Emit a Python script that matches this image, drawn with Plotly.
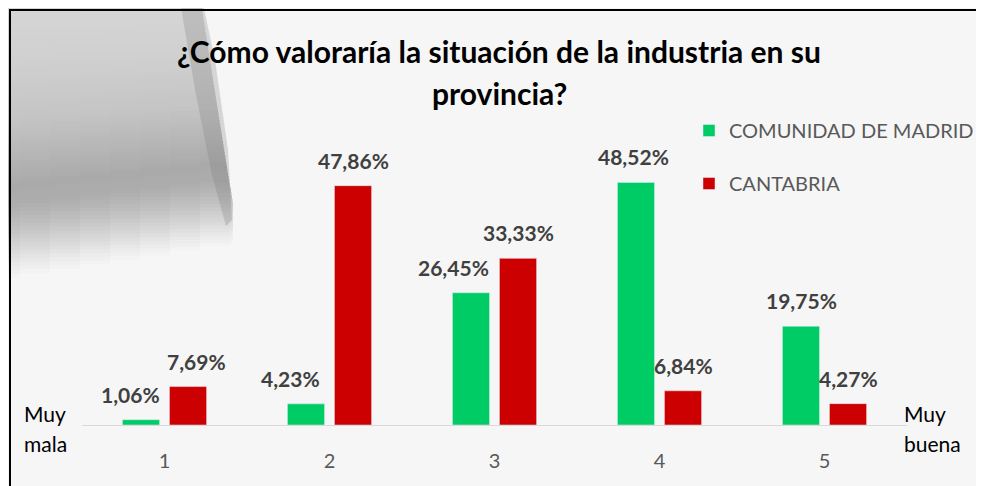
import plotly.graph_objects as go

categories = ["1", "2", "3", "4", "5"]
madrid = [1.06, 4.23, 26.45, 48.52, 19.75]
cantabria = [7.69, 47.86, 33.33, 6.84, 4.27]
series_names = ["COMUNIDAD DE MADRID", "CANTABRIA"]
title_lines = ["¿Cómo valoraría la situación de la industria en su", "provincia?"]

GREEN = "#00CC66"
RED = "#CC0000"
FONT = "Lato"

# the page body adds an 8px offset; screen-space plot area:
OFF = 8
W, H = 984 - OFF, 486 - OFF
L, R, T, B = 82, 907, 125, 425


def px(x):
    return (x - L) / (R - L)


def py(y):
    return (B - y) / (B - T)


def fmt(v):
    return f"{v:.2f}".replace(".", ",") + "%"


fig = go.Figure()
fig.add_trace(go.Bar(x=categories, y=madrid, name=series_names[0], marker_color=GREEN,
                     legendgroup="a", hoverinfo="skip"))
fig.add_trace(go.Bar(x=categories, y=cantabria, name=series_names[1], marker_color=RED,
                     legendgroup="b", hoverinfo="skip"))

label_font = dict(family=FONT, size=21, color="#404040", weight="bold")
green_shift = [-11, -16, -18, -3, 0]
red_shift = [8, 0, 0, 0, 0]
annotations = []
for i, c in enumerate(categories):
    annotations.append(dict(x=i, y=madrid[i], text=fmt(madrid[i]), showarrow=False,
                            xshift=-23.5 + green_shift[i], yshift=11, yanchor="bottom",
                            font=label_font))
    annotations.append(dict(x=i, y=cantabria[i], text=fmt(cantabria[i]), showarrow=False,
                            xshift=23.5 + red_shift[i], yshift=11, yanchor="bottom",
                            font=label_font))

side_font = dict(family=FONT, size=21, color="#000000")
for txt, xp, yp in [("Muy", 22, 413), ("mala", 22, 443), ("Muy", 902, 413), ("buena", 902, 443)]:
    annotations.append(dict(xref="paper", yref="paper", x=px(xp), y=py(yp),
                            xanchor="left", yanchor="middle", text=txt, showarrow=False,
                            font=side_font))

title_font = dict(family=FONT, size=30, color="#000000", weight="bold")
for txt, yp in zip(title_lines, [51, 93]):
    annotations.append(dict(xref="paper", yref="paper", x=px(499), y=py(yp),
                            xanchor="center", yanchor="middle", text=txt, showarrow=False,
                            font=title_font))

# ---- decorative background: soft grey pipe on the left (stacked thin rect strips) ----
profile = [(0, 214), (60, 208), (120, 196), (160, 180), (185, 170), (205, 173),
           (225, 190), (250, 216), (268, 236), (280, 246)]


def grey(v):
    v = max(v, 0)
    for (a, ga), (b, gb) in zip(profile, profile[1:]):
        if a <= v <= b:
            return ga + (gb - ga) * (v - a) / (b - a)
    return profile[-1][1]


def edge(v):
    return 200 + 32 * min(max(v, 0), 230) / 230


shapes = []
step = 4
seg_w = 30
segments = [(xa, xa + seg_w) for xa in range(-10, 240, seg_w)]
for v in range(-12, 282, step):
    g = int(round(grey(v)))
    color = f"rgb({g},{g},{g})"
    for xa, xb in segments:
        xe = min(xb, edge(v))
        if xe <= xa:
            continue
        dy = -0.15 * ((xa + xe) / 2 + 10) * (max(v, 0) / 280)
        shapes.append(dict(type="rect", xref="paper", yref="paper", layer="below",
                           x0=px(xa), x1=px(xe) + 0.001, y0=py(v + dy), y1=py(v + dy + step + 0.8),
                           fillcolor=color, line=dict(width=0)))


def path(points):
    return "M " + " L ".join(f"{px(a):.5f} {py(b):.5f}" for a, b in points) + " Z"


# pipe end (darker crescent)
shapes.append(dict(type="path", xref="paper", yref="paper", layer="below",
                   path=path([(178, -10), (200, -10), (215, 60), (228, 150), (232, 220),
                              (226, 226), (212, 175), (196, 95)]),
                   fillcolor="rgba(120,120,120,0.25)", line=dict(width=0)))
# border (top and left)
shapes.append(dict(type="line", xref="paper", yref="paper", x0=px(9), x1=px(1000),
                   y0=py(10), y1=py(10), line=dict(color="#000000", width=2)))
shapes.append(dict(type="line", xref="paper", yref="paper", x0=px(10), x1=px(10),
                   y0=py(9), y1=py(500), line=dict(color="#000000", width=2)))

fig.update_layout(
    width=W, height=H,
    margin=dict(l=L - OFF, r=W - (R - OFF), t=T - OFF, b=H - (B - OFF), autoexpand=False),
    paper_bgcolor="#f6f6f6", plot_bgcolor="rgba(0,0,0,0)",
    barmode="group", bargap=0.43, bargroupgap=0.21,
    showlegend=True,
    legend=dict(x=px(689), y=py(111), xanchor="left", yanchor="top",
                font=dict(family=FONT, size=20, color="#595959"),
                bgcolor="rgba(0,0,0,0)", tracegroupgap=24),
    annotations=annotations, shapes=shapes,
    xaxis=dict(type="category", showline=True, linecolor="#d9d9d9", linewidth=1,
               showgrid=False, zeroline=False, ticks="",
               tickfont=dict(family=FONT, size=20, color="#595959"), ticklabelstandoff=18),
    yaxis=dict(range=[0, 60], visible=False, showgrid=False, zeroline=False),
)

fig.write_html("out.html")
